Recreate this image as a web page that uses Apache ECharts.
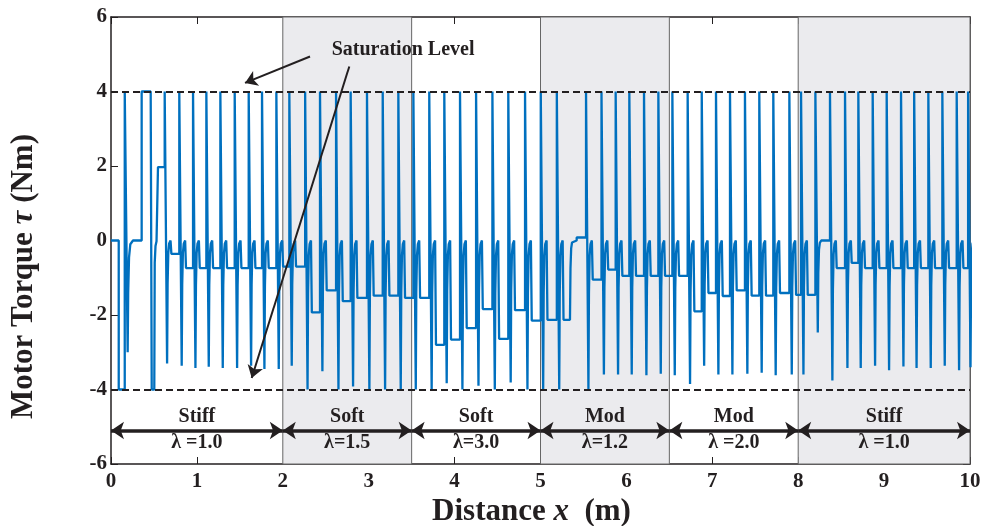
<!DOCTYPE html>
<html lang="en">
<head>
    <meta charset="UTF-8">
    <title>Motor Torque vs Distance</title>
    <script src="https://cdn.jsdelivr.net/npm/echarts@6/dist/echarts.min.js"></script>
    <style>
        html, body, #chart {
            width: 984px;
            height: 526px;
            padding: 0;
            margin: 0;
            background: #fff;
        }
    </style>
</head>
<body>
<div id="chart"></div>
<script>
    // start-up transient, read point by point
    var startX = [0, 0.09, 0.09, 0.16, 0.16, 0.178, 0.194, 0.2, 0.21, 0.225, 0.256, 0.357, 0.357, 0.462, 0.474, 0.504, 0.509, 0.518, 0.53, 0.547, 0.547];
    var startY = [0, 0, -4, -4, 4, 4, -3.0, -1.4, -0.45, -0.1, 0, 0, 4, 4, -4, -4, -0.6, -0.15, -0.02, 0, 1.97];

    // one entry per torque pulse: where it fires, the level held before it, the dip after it
    var spikeX = [0.625, 0.795, 0.955, 1.11, 1.273, 1.44, 1.603, 1.758, 1.925,
        2.076, 2.26, 2.433, 2.62, 2.79, 2.98, 3.163, 3.345, 3.52, 3.705, 3.88,
        4.063, 4.25, 4.44, 4.625, 4.82, 5.003, 5.19, 5.343,
        5.53, 5.71, 5.875, 6.034, 6.205, 6.372, 6.535,
        6.713, 6.877, 7.043, 7.206, 7.38, 7.547, 7.71, 7.897,
        8.033, 8.2, 8.37, 8.545, 8.70, 8.867, 9.03, 9.197, 9.35, 9.515, 9.678, 9.845, 9.978];
    var holdLevel = [1.97, -0.36, -0.74, -0.74, -0.74, -0.74, -0.74, -0.74, -0.74,
        -0.7, -0.7, -1.93, -1.34, -1.63, -1.54, -1.48, -1.48, -1.54, -1.54, -2.8,
        -2.66, -2.35, -1.84, -2.64, -1.87, -2.15, -2.13, -2.13,
        0.08, -1.05, -0.78, -0.95, -0.95, -0.95, -0.95,
        -0.95, -1.9, -1.41, -1.49, -1.34, -1.48, -1.48, -1.41,
        -1.46, -1.46, 0, -0.74, -0.6, -0.74, -0.74, -0.74, -0.74, -0.74, -0.74, -0.74, -0.74];
    var spikeMin = [-3.3, -3.36, -3.42, -3.39, -3.42, -3.42, -3.36, -3.45, -3.45,
        -3.36, -4, -3.51, -4, -3.92, -4, -4, -4, -4, -4, -3.83,
        -4, -3.9, -4, -3.81, -4, -4, -4, null,
        -4, -3.6, -3.6, -3.6, -3.62, -3.58, -3.62,
        -3.85, -3.36, -3.6, -3.6, -3.58, -3.55, -3.62, -3.6,
        -3.6, -2.47, -3.76, -3.42, -3.42, -3.36, -3.48, -3.38, -3.42, -3.42, -3.36, -3.48, -3.4];

    var satLevel = [4, -4];

    // terrain sections along the track
    var regionStart = [0, 2, 3.5, 5, 6.5, 8];
    var regionEnd = [2, 3.5, 5, 6.5, 8, 10];
    var regionName = ["Stiff", "Soft", "Soft", "Mod", "Mod", "Stiff"];
    var regionLambda = ["\u03bb =1.0", "\u03bb=1.5", "\u03bb=3.0", "\u03bb=1.2", "\u03bb =2.0", "\u03bb =1.0"];
    var regionShaded = [false, true, false, true, false, true];

    var ink = "#231f20";
    var serif = "'Liberation Serif', 'DejaVu Serif', serif";
    var TOP = 4, STEP = 0.078;

    // build the trace
    var trace = startX.map(function (x, i) { return [x, startY[i]]; });

    function recover(r, v) {
        trace.push([r + 0.006, v * 0.35], [r + 0.014, v * 0.1], [r + 0.024, v * 0.025], [r + 0.04, 0]);
    }

    spikeX.forEach(function (s, i) {
        var L = holdLevel[i];
        if (i > 0) {
            var t = spikeX[i - 1] + STEP;
            trace.push([t, 0], [t, L]);
        }
        trace.push([s, L]);
        if (spikeMin[i] === null) {
            recover(s, L);
        } else {
            trace.push([s, TOP], [s + 0.022, TOP], [s + 0.028, spikeMin[i]]);
            recover(s + 0.028, spikeMin[i]);
        }
    });

    var shadeData = [];
    var arrowData = [];
    var labelData = [];
    regionStart.forEach(function (a, i) {
        var b = regionEnd[i];
        if (regionShaded[i]) shadeData.push([{xAxis: a}, {xAxis: b}]);
        arrowData.push([{coord: [a, -5.1]}, {coord: [b, -5.1]}]);
        labelData.push({value: [(a + b) / 2, -4.73], name: regionName[i]});
        labelData.push({value: [(a + b) / 2, -5.43], name: regionLambda[i]});
    });
    labelData.push({value: [3.4, 5.12], name: "Saturation Level"});

    var axisCommon = {
        type: "value",
        axisLine: {onZero: false, lineStyle: {color: ink, width: 1.5}},
        axisTick: {inside: true, length: 7, lineStyle: {color: ink, width: 1}},
        splitLine: {show: false}
    };
    var tickFont = {color: ink, fontFamily: serif, fontWeight: "bold", fontSize: 21};
    var nameFont = {color: ink, fontFamily: serif, fontWeight: "bold", fontSize: 31};

    var chart = echarts.init(document.getElementById("chart"));
    chart.setOption({
        animation: false,
        grid: {left: 111, right: 14, top: 17, bottom: 62, outerBoundsMode: "none", containLabel: false},
        xAxis: [
            Object.assign({}, axisCommon, {
                min: 0, max: 10, interval: 1, position: "bottom",
                axisLabel: Object.assign({margin: 7}, tickFont),
                name: "Distance {i|x}  (m)", nameLocation: "middle", nameGap: 32,
                nameTextStyle: Object.assign({
                    padding: [0, 18, 0, 0],
                    rich: {i: Object.assign({}, nameFont, {fontStyle: "italic"})}
                }, nameFont)
            }),
            Object.assign({}, axisCommon, {min: 0, max: 10, interval: 1, position: "top", axisLabel: {show: false}})
        ],
        yAxis: [
            Object.assign({}, axisCommon, {
                min: -6, max: 6, interval: 2, position: "left",
                axisLabel: Object.assign({margin: 4}, tickFont),
                name: "Motor Torque {i|\u03c4} (Nm)", nameLocation: "middle", nameGap: 72,
                nameTextStyle: Object.assign({
                    padding: [0, 72, 0, 0],
                    rich: {i: Object.assign({}, nameFont, {fontStyle: "italic"})}
                }, nameFont)
            }),
            Object.assign({}, axisCommon, {min: -6, max: 6, interval: 2, position: "right", axisLabel: {show: false}})
        ],
        series: [
            {
                // shaded terrain sections
                type: "line",
                data: [],
                silent: true,
                z: 1,
                markArea: {
                    silent: true,
                    itemStyle: {color: "#ebebee", borderColor: "#666", borderWidth: 1},
                    data: shadeData
                }
            },
            {
                name: "torque",
                type: "line",
                data: trace,
                showSymbol: false,
                symbol: "none",
                clip: true,
                z: 2,
                lineStyle: {color: "#0070bf", width: 2.3}
            },
            {
                // saturation limits
                type: "line",
                data: [],
                silent: true,
                z: 3,
                markLine: {
                    silent: true,
                    symbol: "none",
                    label: {show: false},
                    lineStyle: {color: ink, width: 2, type: [7, 4]},
                    data: satLevel.map(function (v) { return {yAxis: v}; })
                }
            },
            {
                type: "line",
                data: [],
                silent: true,
                z: 3,
                markLine: {
                    silent: true,
                    symbol: ["arrow", "arrow"],
                    symbolSize: 13,
                    label: {show: false},
                    lineStyle: {color: ink, width: 3.5, type: "solid"},
                    data: arrowData
                }
            },
            {
                type: "line",
                data: [],
                silent: true,
                z: 3,
                markLine: {
                    silent: true,
                    symbol: ["none", "arrow"],
                    symbolSize: 12,
                    label: {show: false},
                    lineStyle: {color: ink, width: 2, type: "solid"},
                    data: [
                        [{coord: [2.317, 4.94]}, {coord: [1.56, 4.23]}],
                        [{coord: [2.774, 4.67]}, {coord: [1.638, -3.69]}]
                    ]
                }
            },
            {
                type: "scatter",
                data: labelData,
                silent: true,
                z: 4,
                symbolSize: 0,
                itemStyle: {color: ink, opacity: 1},
                label: {
                    show: true,
                    position: "inside",
                    formatter: "{b}",
                    color: ink,
                    opacity: 1,
                    textBorderWidth: 0,
                    fontFamily: serif,
                    fontWeight: "bold",
                    fontSize: 20
                }
            }
        ]
    });
</script>
</body>
</html>
